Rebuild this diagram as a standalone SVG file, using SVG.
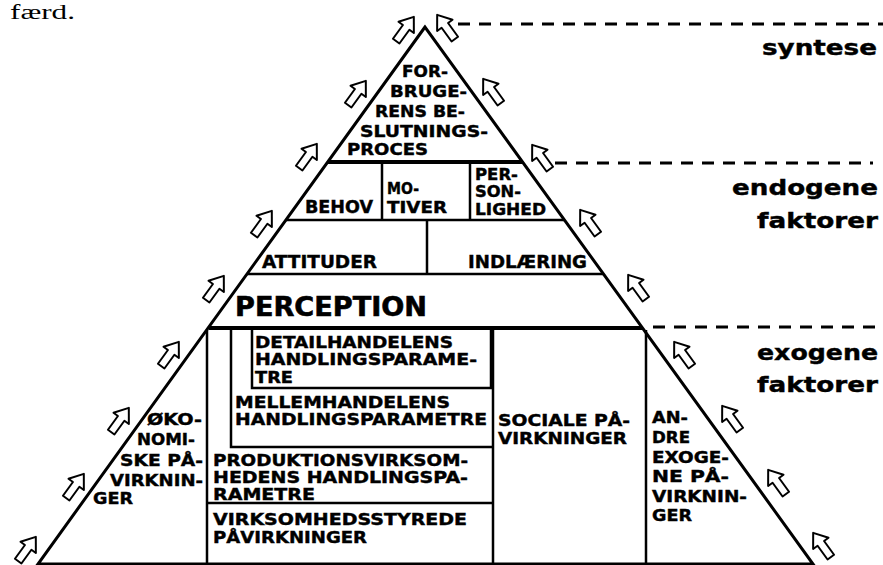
<svg xmlns="http://www.w3.org/2000/svg" xmlns:xlink="http://www.w3.org/1999/xlink" width="883" height="565" viewBox="0 0 883 565">
<style>
.t{font-family:"DejaVu Sans","Liberation Sans",sans-serif;font-weight:bold;font-size:15px;fill:#000;stroke:#000;stroke-width:0.4}
.b{font-size:17px}
.big{font-size:26px;stroke-width:0.6}
.lab{font-family:"DejaVu Sans","Liberation Sans",sans-serif;font-weight:bold;font-size:21px;fill:#000;stroke:#000;stroke-width:0.4}
.ln{stroke:#000;stroke-width:2.5;fill:none}
.thk{stroke:#000;stroke-width:4;fill:none}
.dash{stroke:#000;stroke-width:3;stroke-dasharray:12 9;fill:none}
.arr{fill:#fff;stroke:#000;stroke-width:2;stroke-linejoin:round}
</style>
<defs>
<path id="arr" class="arr" d="M0,-15 L9.5,-2 L4,-2 L4,15 L-4,15 L-4,-2 L-9.5,-2 Z"/>
</defs>
<rect width="883" height="565" fill="#fff"/>
<text x="10" y="19" font-family="Liberation Serif,serif" font-size="21" textLength="65" lengthAdjust="spacingAndGlyphs">færd.</text>

<g id="levels">
<path class="dash" d="M458,24 H883"/>
<path class="dash" d="M555,163 H873"/>
<path class="dash" d="M653,327 H883"/>
<g id="label-syntese"><text class="lab" x="762" y="55" textLength="115" lengthAdjust="spacingAndGlyphs">syntese</text></g>
<g id="label-endogene"><text class="lab" x="732" y="195" textLength="146" lengthAdjust="spacingAndGlyphs">endogene</text><text class="lab" x="757" y="228" textLength="121" lengthAdjust="spacingAndGlyphs">faktorer</text></g>
<g id="label-exogene"><text class="lab" x="757" y="360" textLength="121" lengthAdjust="spacingAndGlyphs">exogene</text><text class="lab" x="757" y="392" textLength="121" lengthAdjust="spacingAndGlyphs">faktorer</text></g>
</g>

<g id="pyramid">
<polygon points="425,27 38,564 813,564" fill="none" stroke="#000" stroke-width="3"/>
<path class="thk" d="M328,162 H522"/>
<path class="ln" d="M286,220 H564"/>
<path class="ln" d="M247,274 H603"/>
<path class="thk" d="M209,328 H642"/>
<path class="ln" d="M382,162 V220 M470,162 V220 M427,220 V274"/>
<path class="ln" d="M207,330 V564 M493,330 V564 M646,330 V564"/>
<path class="ln" d="M231,330 V447 H493 M252,330 V388 H491 V330 M207,503 H493"/>
</g>

<g id="beslutningsproces">
<text class="t" x="402" y="77" textLength="46" lengthAdjust="spacingAndGlyphs">FOR-</text>
<text class="t" x="390" y="97" textLength="77" lengthAdjust="spacingAndGlyphs">BRUGE-</text>
<text class="t" x="375" y="117" textLength="90" lengthAdjust="spacingAndGlyphs">RENS BE-</text>
<text class="t" x="360" y="137" textLength="128" lengthAdjust="spacingAndGlyphs">SLUTNINGS-</text>
<text class="t" x="347" y="155" textLength="81" lengthAdjust="spacingAndGlyphs">PROCES</text>
</g>
<g id="behov"><text class="t b" x="305" y="213" textLength="68" lengthAdjust="spacingAndGlyphs">BEHOV</text></g>
<g id="motiver">
<text class="t" x="387" y="194" textLength="32" lengthAdjust="spacingAndGlyphs">MO-</text>
<text class="t" x="387" y="213" textLength="60" lengthAdjust="spacingAndGlyphs">TIVER</text>
</g>
<g id="personlighed">
<text class="t" x="475" y="180" textLength="43" lengthAdjust="spacingAndGlyphs">PER-</text>
<text class="t" x="475" y="197" textLength="46" lengthAdjust="spacingAndGlyphs">SON-</text>
<text class="t" x="475" y="215" textLength="71" lengthAdjust="spacingAndGlyphs">LIGHED</text>
</g>
<g id="attituder"><text class="t b" x="262" y="268" textLength="115" lengthAdjust="spacingAndGlyphs">ATTITUDER</text></g>
<g id="indlaering"><text class="t b" x="468" y="268" textLength="119" lengthAdjust="spacingAndGlyphs">INDLÆRING</text></g>
<g id="perception"><text class="t big" x="235" y="316" textLength="192" lengthAdjust="spacingAndGlyphs">PERCEPTION</text></g>
<g id="detailhandel">
<text class="t" x="255" y="348" textLength="198" lengthAdjust="spacingAndGlyphs">DETAILHANDELENS</text>
<text class="t" x="255" y="365" textLength="222" lengthAdjust="spacingAndGlyphs">HANDLINGSPARAME-</text>
<text class="t" x="255" y="383" textLength="38" lengthAdjust="spacingAndGlyphs">TRE</text>
</g>
<g id="mellemhandel">
<text class="t" x="235" y="408" textLength="215" lengthAdjust="spacingAndGlyphs">MELLEMHANDELENS</text>
<text class="t" x="235" y="425" textLength="252" lengthAdjust="spacingAndGlyphs">HANDLINGSPARAMETRE</text>
</g>
<g id="produktion">
<text class="t" x="213" y="466" textLength="255" lengthAdjust="spacingAndGlyphs">PRODUKTIONSVIRKSOM-</text>
<text class="t" x="213" y="483" textLength="255" lengthAdjust="spacingAndGlyphs">HEDENS HANDLINGSPA-</text>
<text class="t" x="213" y="500" textLength="102" lengthAdjust="spacingAndGlyphs">RAMETRE</text>
</g>
<g id="virksomhedsstyrede">
<text class="t" x="213" y="525" textLength="254" lengthAdjust="spacingAndGlyphs">VIRKSOMHEDSSTYREDE</text>
<text class="t" x="213" y="543" textLength="154" lengthAdjust="spacingAndGlyphs">PÅVIRKNINGER</text>
</g>
<g id="sociale">
<text class="t" x="498" y="426" textLength="132" lengthAdjust="spacingAndGlyphs">SOCIALE PÅ-</text>
<text class="t" x="498" y="444" textLength="129" lengthAdjust="spacingAndGlyphs">VIRKNINGER</text>
</g>
<g id="andre">
<text class="t" x="652" y="423" textLength="36" lengthAdjust="spacingAndGlyphs">AN-</text>
<text class="t" x="652" y="443" textLength="38" lengthAdjust="spacingAndGlyphs">DRE</text>
<text class="t" x="652" y="463" textLength="77" lengthAdjust="spacingAndGlyphs">EXOGE-</text>
<text class="t" x="652" y="482" textLength="77" lengthAdjust="spacingAndGlyphs">NE PÅ-</text>
<text class="t" x="652" y="502" textLength="95" lengthAdjust="spacingAndGlyphs">VIRKNIN-</text>
<text class="t" x="652" y="521" textLength="40" lengthAdjust="spacingAndGlyphs">GER</text>
</g>
<g id="okonomiske">
<text class="t" x="147" y="425" textLength="55" lengthAdjust="spacingAndGlyphs">ØKO-</text>
<text class="t" x="137" y="445" textLength="58" lengthAdjust="spacingAndGlyphs">NOMI-</text>
<text class="t" x="120" y="466" textLength="83" lengthAdjust="spacingAndGlyphs">SKE PÅ-</text>
<text class="t" x="110" y="486" textLength="93" lengthAdjust="spacingAndGlyphs">VIRKNIN-</text>
<text class="t" x="93" y="504" textLength="40" lengthAdjust="spacingAndGlyphs">GER</text>
</g>

<g id="connectors">
<use xlink:href="#arr" transform="translate(405,29) rotate(36)"/>
<use xlink:href="#arr" transform="translate(357,93) rotate(36)"/>
<use xlink:href="#arr" transform="translate(308,156) rotate(36)"/>
<use xlink:href="#arr" transform="translate(263,223) rotate(36)"/>
<use xlink:href="#arr" transform="translate(215,288) rotate(36)"/>
<use xlink:href="#arr" transform="translate(170,354) rotate(36)"/>
<use xlink:href="#arr" transform="translate(120,420) rotate(36)"/>
<use xlink:href="#arr" transform="translate(75,486) rotate(36)"/>
<use xlink:href="#arr" transform="translate(27,549) rotate(36)"/>
<use xlink:href="#arr" transform="translate(446,27) rotate(-36)"/>
<use xlink:href="#arr" transform="translate(492,91) rotate(-36)"/>
<use xlink:href="#arr" transform="translate(541,157) rotate(-36)"/>
<use xlink:href="#arr" transform="translate(589,222) rotate(-36)"/>
<use xlink:href="#arr" transform="translate(637,287) rotate(-36)"/>
<use xlink:href="#arr" transform="translate(683,354) rotate(-36)"/>
<use xlink:href="#arr" transform="translate(731,418) rotate(-36)"/>
<use xlink:href="#arr" transform="translate(777,482) rotate(-36)"/>
<use xlink:href="#arr" transform="translate(822,545) rotate(-36)"/>
</g>
</svg>
